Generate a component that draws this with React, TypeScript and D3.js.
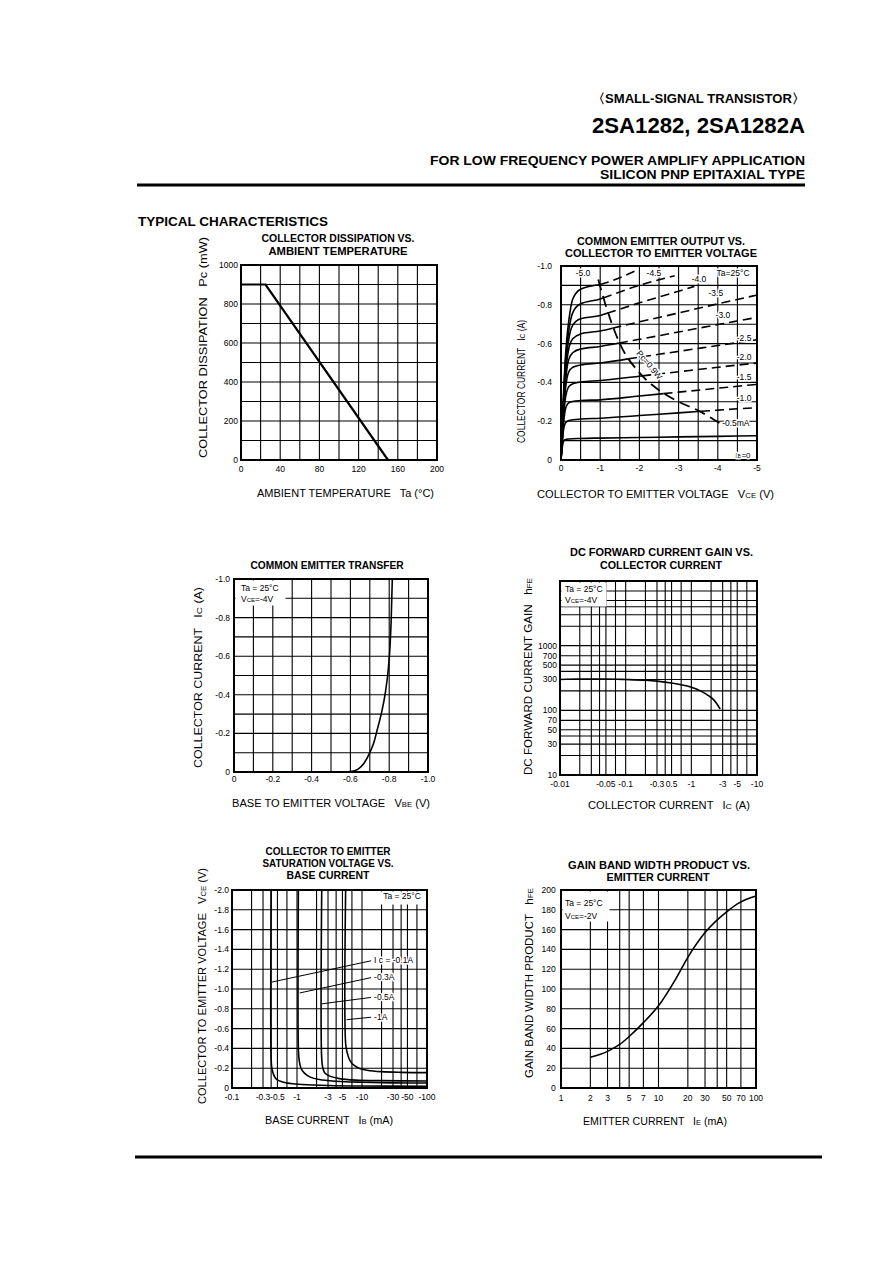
import React from 'react';
import * as d3 from 'd3';

const FONT = '"Liberation Sans", Arial, Helvetica, sans-serif';

// ---------------- Chart 1: collector dissipation vs ambient temperature
const pcTaTemp = [0, 25, 150];
const pcTaPower = [900, 900, 0];
const pcTaXTicks = [0, 40, 80, 120, 160, 200];
const pcTaYTicks = [0, 200, 400, 600, 800, 1000];

// ---------------- Chart 2: common emitter output (VCE [V, negative], IC [A, negative])
const outIb05 = [[0, 0], [0.03, 0.06], [0.06, 0.095], [0.1, 0.104], [0.2, 0.108], [0.5, 0.111], [1, 0.113], [2, 0.116], [3, 0.119], [4, 0.122], [5, 0.125]];
const outIb10 = [[0, 0], [0.03, 0.08], [0.06, 0.15], [0.1, 0.185], [0.15, 0.198], [0.2, 0.204], [0.5, 0.211], [1, 0.215], [2, 0.229], [3, 0.243], [4, 0.257], [5, 0.27]];
const outIb15 = [[0, 0], [0.03, 0.09], [0.06, 0.18], [0.1, 0.25], [0.15, 0.283], [0.2, 0.295], [0.3, 0.302], [0.5, 0.306], [1, 0.31], [2, 0.33], [3, 0.35], [4, 0.37], [5, 0.39]];
const outIb20 = [[0, 0], [0.03, 0.1], [0.06, 0.2], [0.1, 0.3], [0.15, 0.355], [0.2, 0.378], [0.3, 0.393], [0.5, 0.402], [1, 0.41], [2, 0.432], [3, 0.455], [4, 0.478], [5, 0.5]];
const outIb25 = [[0, 0], [0.03, 0.11], [0.06, 0.22], [0.1, 0.34], [0.15, 0.42], [0.2, 0.455], [0.3, 0.478], [0.5, 0.49], [1, 0.5], [2, 0.53], [3, 0.56], [4, 0.59], [5, 0.62]];
const outIb30 = [[0, 0], [0.03, 0.12], [0.06, 0.24], [0.1, 0.37], [0.15, 0.47], [0.2, 0.52], [0.3, 0.553], [0.5, 0.572], [1, 0.585], [2, 0.622], [3, 0.66], [4, 0.698], [5, 0.735]];
const outIb35 = [[0, 0], [0.03, 0.13], [0.06, 0.26], [0.1, 0.4], [0.15, 0.51], [0.2, 0.575], [0.3, 0.625], [0.5, 0.65], [1, 0.665], [2, 0.712], [3, 0.758], [4, 0.805], [5, 0.85]];
const outIb40 = [[0, 0], [0.03, 0.14], [0.06, 0.28], [0.1, 0.43], [0.15, 0.55], [0.2, 0.625], [0.3, 0.695], [0.5, 0.728], [1, 0.745], [2, 0.81], [3, 0.87], [3.4, 0.895]];
const outIb45 = [[0, 0], [0.03, 0.15], [0.06, 0.3], [0.1, 0.46], [0.15, 0.59], [0.2, 0.67], [0.3, 0.76], [0.5, 0.805], [1, 0.83], [2, 0.9], [2.9, 0.95]];
const outIb50 = [[0, 0], [0.03, 0.16], [0.06, 0.32], [0.1, 0.49], [0.15, 0.63], [0.2, 0.72], [0.3, 0.83], [0.5, 0.88], [1, 0.905], [1.9, 0.975]];
const outPcLimit = [[0.95, 0.93], [1.2, 0.76], [1.5, 0.6], [2, 0.45], [2.5, 0.36], [3, 0.3], [3.5, 0.255], [4.05, 0.19]];
const outPcWatts = 0.9;
const outLabelText = ['-5.0', '-4.5', '-4.0', '-3.5', '-3.0', '-2.5', '-2.0', '-1.5', '-1.0', '-0.5mA'];
const outLabelV = [0.56, 2.37, 3.52, 3.95, 4.13, 4.67, 4.67, 4.67, 4.67, 4.46];
const outLabelI = [0.964, 0.965, 0.933, 0.861, 0.747, 0.629, 0.531, 0.428, 0.32, 0.19];
const outXTicks = [0, 1, 2, 3, 4, 5];
const outXLabels = ['0', '-1', '-2', '-3', '-4', '-5'];
const outYTicks = [0, 0.2, 0.4, 0.6, 0.8, 1.0];
const outYLabels = ['0', '-0.2', '-0.4', '-0.6', '-0.8', '-1.0'];

// ---------------- Chart 3: common emitter transfer (VBE, IC)
const trVbe = [0.56, 0.6, 0.64, 0.67, 0.7, 0.72, 0.74, 0.76, 0.78, 0.795, 0.803, 0.81, 0.816];
const trIc = [0, 0.002, 0.015, 0.045, 0.1, 0.15, 0.225, 0.305, 0.41, 0.53, 0.63, 0.78, 1.0];
const trXTicks = [0, 0.2, 0.4, 0.6, 0.8, 1.0];
const trXLabels = ['0', '-0.2', '-0.4', '-0.6', '-0.8', '-1.0'];
const trYTicks = [0, 0.2, 0.4, 0.6, 0.8, 1.0];
const trYLabels = ['0', '-0.2', '-0.4', '-0.6', '-0.8', '-1.0'];

// ---------------- Chart 4: DC current gain vs collector current
const hfeIc = [0.01, 0.02, 0.05, 0.1, 0.2, 0.3, 0.5, 0.7, 1, 1.4, 1.8, 2.2, 2.75];
const hfeVal = [300, 305, 305, 300, 292, 283, 265, 248, 228, 198, 170, 145, 105];
const hfeXTicks = [0.01, 0.05, 0.1, 0.3, 0.5, 1, 3, 5, 10];
const hfeXLabels = ['-0.01', '-0.05', '-0.1', '-0.3', '0.5', '-1', '-3', '-5', '-10'];
const hfeYTicks = [10, 30, 50, 70, 100, 300, 500, 700, 1000];

// ---------------- Chart 5: VCE(sat) vs base current (IB mA, VCE V)
const satIc01 = [[0.4, 2.0], [0.4, 0.3], [0.41, 0.2], [0.44, 0.13], [0.48, 0.09], [0.6, 0.06], [0.8, 0.045], [1.2, 0.035], [3, 0.025], [10, 0.02], [100, 0.018]];
const satIc03 = [[1.05, 2.0], [1.05, 0.4], [1.08, 0.28], [1.15, 0.2], [1.3, 0.15], [1.6, 0.11], [2.2, 0.085], [4, 0.068], [10, 0.058], [30, 0.052], [100, 0.05]];
const satIc05 = [[2.4, 2.0], [2.4, 0.3], [2.5, 0.2], [2.7, 0.15], [3.2, 0.12], [4.5, 0.095], [8, 0.08], [20, 0.074], [100, 0.07]];
const satIc10 = [[5.6, 2.0], [5.6, 0.45], [5.9, 0.36], [6.5, 0.28], [7.5, 0.23], [9, 0.2], [12, 0.18], [20, 0.165], [40, 0.158], [100, 0.155]];
const satLabelText = ['I c = -0.1A', '-0.3A', '-0.5A', '-1A'];
const satLabelV = [1.29, 1.12, 0.92, 0.72];
const satLeaderIb = [0.41, 1.1, 2.4, 5.8];
const satLeaderV = [1.07, 0.96, 0.85, 0.69];
const satXTicks = [0.1, 0.3, 0.5, 1, 3, 5, 10, 30, 50, 100];
const satXLabels = ['-0.1', '-0.3', '-0.5', '-1', '-3', '-5', '-10', '-30', '-50', '-100'];
const satYTicks = [0, 0.2, 0.4, 0.6, 0.8, 1.0, 1.2, 1.4, 1.6, 1.8, 2.0];
const satYLabels = ['0', '-0.2', '-0.4', '-0.6', '-0.8', '-1.0', '-1.2', '-1.4', '-1.6', '-1.8', '-2.0'];

// ---------------- Chart 6: gain bandwidth product vs emitter current
const ftIe = [2, 3, 4, 5, 7, 10, 15, 20, 30, 50, 70, 100];
const ftVal = [31, 37, 44, 52, 66, 83, 110, 132, 157, 178, 188, 194];
const ftXTicks = [1, 2, 3, 5, 7, 10, 20, 30, 50, 70, 100];
const ftYTicks = [0, 20, 40, 60, 80, 100, 120, 140, 160, 180, 200];

// ---------------- layout
type Box = { l: number; r: number; t: number; b: number };
const B1: Box = { l: 241, r: 437, t: 265, b: 460 };
const B2: Box = { l: 561, r: 757, t: 266, b: 460 };
const B3: Box = { l: 234, r: 428, t: 579, b: 772 };
const B4: Box = { l: 560, r: 757, t: 581, b: 775 };
const B5: Box = { l: 232, r: 427, t: 890, b: 1088 };
const B6: Box = { l: 561, r: 756, t: 890, b: 1088 };

const GRID_W = 1.1;
const CURVE_W = 1.6;
const TICK_SIZE = 8.5;

function logGrid(lo: number, hi: number, mults: number[]) {
  const out: number[] = [];
  for (let e = Math.floor(Math.log10(lo)); e <= Math.ceil(Math.log10(hi)); e++) {
    for (const m of mults) {
      const v = m * Math.pow(10, e);
      if (v > lo * 1.0001 && v < hi * 0.9999) out.push(v);
    }
  }
  return out;
}

function T(p: any) {
  const { x, y, size = 8, anchor = 'middle', weight = 400, len, rot, halo, children } = p;
  const extra: any = {};
  if (len) { extra.textLength = len; extra.lengthAdjust = 'spacingAndGlyphs'; }
  if (halo) { extra.stroke = '#fff'; extra.strokeWidth = 3; extra.paintOrder = 'stroke'; extra.strokeLinejoin = 'round'; }
  if (rot) {
    return (
      <text transform={`translate(${x},${y}) rotate(${rot})`} fontSize={size} textAnchor={anchor}
        fontWeight={weight} fill="#000" xmlSpace="preserve" style={{ whiteSpace: 'pre' }} {...extra}>{children}</text>
    );
  }
  return (
    <text x={x} y={y} fontSize={size} textAnchor={anchor} fontWeight={weight} fill="#000"
      xmlSpace="preserve" style={{ whiteSpace: 'pre' }} {...extra}>{children}</text>
  );
}

function Sub({ children, size }: any) {
  return <tspan fontSize={size}>{children}</tspan>;
}

function Frame({ box, xs, ys, sx, sy }: any) {
  return (
    <g>
      <g stroke="#000" strokeWidth={GRID_W} fill="none">
        {xs.map((v: number, i: number) => (
          <line key={'vx' + i} x1={sx(v)} x2={sx(v)} y1={box.t} y2={box.b} />
        ))}
        {ys.map((v: number, i: number) => (
          <line key={'hy' + i} x1={box.l} x2={box.r} y1={sy(v)} y2={sy(v)} />
        ))}
      </g>
      <rect x={box.l} y={box.t} width={box.r - box.l} height={box.b - box.t} fill="none" stroke="#000" strokeWidth={2} />
    </g>
  );
}

function YTicks({ vals, labels, sy, x }: any) {
  return (
    <g>
      {vals.map((v: number, i: number) => (
        <T key={i} x={x} y={sy(v) + 3} anchor="end" size={TICK_SIZE}>{labels ? labels[i] : String(v)}</T>
      ))}
    </g>
  );
}

function XTicks({ vals, labels, sx, y }: any) {
  return (
    <g>
      {vals.map((v: number, i: number) => (
        <T key={i} x={sx(v)} y={y} size={TICK_SIZE}>{labels ? labels[i] : String(v)}</T>
      ))}
    </g>
  );
}

function Header() {
  return (
    <g>
      <T x={805} y={103} anchor="end" size={13} weight={700} len={213}>〈SMALL-SIGNAL TRANSISTOR〉</T>
      <T x={805} y={133} anchor="end" size={22} weight={700} len={213}>2SA1282, 2SA1282A</T>
      <T x={805} y={164.5} anchor="end" size={12.5} weight={700} len={375}>FOR LOW FREQUENCY POWER AMPLIFY APPLICATION</T>
      <T x={805} y={178.5} anchor="end" size={12.5} weight={700} len={205}>SILICON PNP EPITAXIAL TYPE</T>
      <rect x={137} y={183.5} width={668} height={3} fill="#000" />
      <T x={138} y={226} anchor="start" size={13} weight={700} len={190}>TYPICAL CHARACTERISTICS</T>
      <rect x={135} y={1155.5} width={687} height={3} fill="#000" />
    </g>
  );
}

function Chart1() {
  const sx = d3.scaleLinear().domain([0, 200]).range([B1.l, B1.r]);
  const sy = d3.scaleLinear().domain([0, 1000]).range([B1.b, B1.t]);
  const line = d3.line<number>().x((_, i) => sx(pcTaTemp[i])).y((d) => sy(d));
  return (
    <g>
      <T x={338} y={242} size={10} weight={700} len={153}>COLLECTOR DISSIPATION VS.</T>
      <T x={338} y={254.5} size={10} weight={700} len={139}>AMBIENT TEMPERATURE</T>
      <Frame box={B1} xs={d3.range(20, 200, 20)} ys={d3.range(100, 1000, 100)} sx={sx} sy={sy} />
      <path d={line(pcTaPower) || ''} fill="none" stroke="#000" strokeWidth={2.2} />
      <YTicks vals={pcTaYTicks} sy={sy} x={238} />
      <XTicks vals={pcTaXTicks} sx={sx} y={472} />
      <T x={206.5} y={458} rot={-90} anchor="start" size={10} len={221}>COLLECTOR DISSIPATION   Pc (mW)</T>
      <T x={257} y={496.5} anchor="start" size={10} len={177}>AMBIENT TEMPERATURE   Ta (°C)</T>
    </g>
  );
}

function splitAtPc(pts: number[][]) {
  const solid: number[][] = [];
  const dashed: number[][] = [];
  let crossed = false;
  for (let i = 0; i < pts.length; i++) {
    const [v, c] = pts[i];
    if (!crossed && v * c > outPcWatts) {
      const [pv, pc] = pts[i - 1];
      const f0 = pv * pc - outPcWatts;
      const f1 = v * c - outPcWatts;
      const t = f0 / (f0 - f1);
      const cross = [pv + (v - pv) * t, pc + (c - pc) * t];
      solid.push(cross);
      dashed.push(cross);
      crossed = true;
    }
    if (crossed) dashed.push(pts[i]); else solid.push(pts[i]);
  }
  return { solid, dashed };
}

function Chart2() {
  const sx = d3.scaleLinear().domain([0, 5]).range([B2.l, B2.r]);
  const sy = d3.scaleLinear().domain([0, 1]).range([B2.b, B2.t]);
  const line = d3.line<number[]>().x((d) => sx(d[0])).y((d) => sy(d[1])).curve(d3.curveMonotoneX);
  const curves = [outIb05, outIb10, outIb15, outIb20, outIb25, outIb30, outIb35, outIb40, outIb45, outIb50];
  const pcLine = d3.line<number[]>().x((d) => sx(d[0])).y((d) => sy(d[1])).curve(d3.curveMonotoneX);
  return (
    <g>
      <T x={661} y={244.5} size={10} weight={700} len={168}>COMMON EMITTER OUTPUT VS.</T>
      <T x={661} y={257} size={10} weight={700} len={192}>COLLECTOR TO EMITTER VOLTAGE</T>
      <Frame box={B2} xs={d3.range(0.5, 5, 0.5)} ys={d3.range(0.1, 1, 0.1)} sx={sx} sy={sy} />
      {curves.map((c, i) => {
        const { solid, dashed } = splitAtPc(c);
        return (
          <g key={i} fill="none" stroke="#000" strokeWidth={CURVE_W}>
            <path d={line(solid) || ''} />
            {dashed.length > 1 && <path d={line(dashed) || ''} strokeDasharray="9,5" />}
          </g>
        );
      })}
      <path d={pcLine(outPcLimit) || ''} fill="none" stroke="#000" strokeWidth={1.8} strokeDasharray="11,6" />
      <T x={sx(2.2)} y={sy(0.48)} rot={50} size={8.5} halo>Pc=0.9W</T>
      {outLabelText.map((t, i) => (
        <T key={i} x={sx(outLabelV[i])} y={sy(outLabelI[i]) + 3} size={8.5} halo>{t}</T>
      ))}
      <T x={sx(4.39)} y={sy(0.964) + 3} size={8.5} halo>Ta=25°C</T>
      <T x={sx(4.64)} y={458} size={8} halo>I<Sub size={6}>B</Sub>=0</T>
      <YTicks vals={outYTicks} labels={outYLabels} sy={sy} x={552} />
      <XTicks vals={outXTicks} labels={outXLabels} sx={sx} y={471} />
      <T x={525} y={443} rot={-90} anchor="start" size={10} len={123}>COLLECTOR CURRENT   I<Sub size={8}>C</Sub> (A)</T>
      <T x={537} y={498} anchor="start" size={10} len={237}>COLLECTOR TO EMITTER VOLTAGE   V<Sub size={7}>CE</Sub> (V)</T>
    </g>
  );
}

function Chart3() {
  const sx = d3.scaleLinear().domain([0, 1]).range([B3.l, B3.r]);
  const sy = d3.scaleLinear().domain([0, 1]).range([B3.b, B3.t]);
  const line = d3.line<number>().x((d) => sx(d)).y((_, i) => sy(trIc[i])).curve(d3.curveMonotoneX);
  return (
    <g>
      <T x={327} y={568.5} size={10} weight={700} len={153}>COMMON EMITTER TRANSFER</T>
      <Frame box={B3} xs={d3.range(0.1, 1, 0.1)} ys={d3.range(0.1, 1, 0.1)} sx={sx} sy={sy} />
      <rect x={B3.l + 1.5} y={B3.t + 1.5} width={50} height={25} fill="#fff" />
      <path d={line(trVbe) || ''} fill="none" stroke="#000" strokeWidth={CURVE_W} />
      <T x={241} y={591} anchor="start" size={8.5}>Ta = 25°C</T>
      <T x={241} y={602} anchor="start" size={8.5}>V<Sub size={6}>CE</Sub>=-4V</T>
      <YTicks vals={trYTicks} labels={trYLabels} sy={sy} x={230} />
      <XTicks vals={trXTicks} labels={trXLabels} sx={sx} y={782} />
      <T x={201.8} y={768} rot={-90} anchor="start" size={10} len={181}>COLLECTOR CURRENT   I<Sub size={8}>C</Sub> (A)</T>
      <T x={232} y={806.5} anchor="start" size={10} len={198}>BASE TO EMITTER VOLTAGE   V<Sub size={7}>BE</Sub> (V)</T>
    </g>
  );
}

function Chart4() {
  const sx = d3.scaleLog().domain([0.01, 10]).range([B4.l, B4.r]);
  const sy = d3.scaleLog().domain([10, 10000]).range([B4.b, B4.t]);
  const line = d3.line<number>().x((_, i) => sx(hfeIc[i])).y((d) => sy(d)).curve(d3.curveMonotoneX);
  return (
    <g>
      <T x={661.5} y={556} size={10} weight={700} len={183}>DC FORWARD CURRENT GAIN VS.</T>
      <T x={661} y={569.3} size={10} weight={700} len={122}>COLLECTOR CURRENT</T>
      <Frame box={B4} xs={logGrid(0.01, 10, [1, 2, 3, 4, 5, 7])} ys={logGrid(10, 10000, [1, 2, 3, 4, 5, 7])} sx={sx} sy={sy} />
      <rect x={B4.l + 1.5} y={B4.t + 1.5} width={45} height={24} fill="#fff" />
      <path d={line(hfeVal) || ''} fill="none" stroke="#000" strokeWidth={CURVE_W} />
      <T x={565} y={592} anchor="start" size={8.5}>Ta = 25°C</T>
      <T x={565} y={603} anchor="start" size={8.5}>V<Sub size={6}>CE</Sub>=-4V</T>
      <YTicks vals={hfeYTicks} sy={sy} x={557} />
      <XTicks vals={hfeXTicks} labels={hfeXLabels} sx={sx} y={787} />
      <T x={531.8} y={775} rot={-90} anchor="start" size={10} len={197}>DC FORWARD CURRENT GAIN   h<Sub size={7}>FE</Sub></T>
      <T x={588} y={808.5} anchor="start" size={10} len={162}>COLLECTOR CURRENT   I<Sub size={8}>C</Sub> (A)</T>
    </g>
  );
}

function Chart5() {
  const sx = d3.scaleLog().domain([0.1, 100]).range([B5.l, B5.r]);
  const sy = d3.scaleLinear().domain([0, 2]).range([B5.b, B5.t]);
  const line = d3.line<number[]>().x((d) => sx(d[0])).y((d) => sy(d[1])).curve(d3.curveCatmullRom.alpha(0.5));
  const curves = [satIc01, satIc03, satIc05, satIc10];
  const lx = sx(13.8);
  return (
    <g>
      <T x={328} y={855.3} size={10} weight={700} len={125}>COLLECTOR TO EMITTER</T>
      <T x={328} y={867} size={10} weight={700} len={131}>SATURATION VOLTAGE VS.</T>
      <T x={328} y={878.6} size={10} weight={700} len={83}>BASE CURRENT</T>
      <Frame box={B5} xs={logGrid(0.1, 100, [1, 2, 3, 4, 5, 7])} ys={d3.range(0.2, 2, 0.2)} sx={sx} sy={sy} />
      <rect x={379} y={B5.t + 1.5} width={46} height={13} fill="#fff" />
      {curves.map((c, i) => (
        <path key={i} d={line(c) || ''} fill="none" stroke="#000" strokeWidth={CURVE_W} />
      ))}
      {satLabelText.map((t, i) => (
        <g key={i}>
          <line x1={lx} y1={sy(satLabelV[i]) + 0.5} x2={sx(satLeaderIb[i])} y2={sy(satLeaderV[i])} stroke="#000" strokeWidth={1} />
          <T x={lx + 3} y={sy(satLabelV[i]) + 3} anchor="start" size={8.5} halo>{t}</T>
        </g>
      ))}
      <T x={402} y={898.5} size={8.5}>Ta = 25°C</T>
      <YTicks vals={satYTicks} labels={satYLabels} sy={sy} x={229} />
      <XTicks vals={satXTicks} labels={satXLabels} sx={sx} y={1100} />
      <T x={206.2} y={1104} rot={-90} anchor="start" size={10} len={236}>COLLECTOR TO EMITTER VOLTAGE   V<Sub size={7}>CE</Sub> (V)</T>
      <T x={265} y={1123.5} anchor="start" size={10} len={128}>BASE CURRENT   I<Sub size={7}>B</Sub> (mA)</T>
    </g>
  );
}

function Chart6() {
  const sx = d3.scaleLog().domain([1, 100]).range([B6.l, B6.r]);
  const sy = d3.scaleLinear().domain([0, 200]).range([B6.b, B6.t]);
  const line = d3.line<number>().x((_, i) => sx(ftIe[i])).y((d) => sy(d)).curve(d3.curveMonotoneX);
  return (
    <g>
      <T x={659} y={868.6} size={10} weight={700} len={182}>GAIN BAND WIDTH PRODUCT VS.</T>
      <T x={658} y={881.3} size={10} weight={700} len={103}>EMITTER CURRENT</T>
      <Frame box={B6} xs={logGrid(1, 100, [1, 2, 3, 4, 5, 7])} ys={d3.range(20, 200, 20)} sx={sx} sy={sy} />
      <rect x={B6.l + 1.5} y={B6.t + 1.5} width={47} height={30} fill="#fff" />
      <path d={line(ftVal) || ''} fill="none" stroke="#000" strokeWidth={CURVE_W} />
      <T x={565} y={906} anchor="start" size={8.5}>Ta = 25°C</T>
      <T x={565} y={918.5} anchor="start" size={8.5}>V<Sub size={6}>CE</Sub>=-2V</T>
      <YTicks vals={ftYTicks} sy={sy} x={555.7} />
      <XTicks vals={ftXTicks} sx={sx} y={1100.7} />
      <T x={532.5} y={1078} rot={-90} anchor="start" size={10} len={190}>GAIN BAND WIDTH PRODUCT   h<Sub size={7}>FE</Sub></T>
      <T x={583} y={1125} anchor="start" size={10} len={144}>EMITTER CURRENT   I<Sub size={7}>E</Sub> (mA)</T>
    </g>
  );
}

export default function App() {
  return (
    <svg width={892} height={1263} viewBox="0 0 892 1263" fontFamily={FONT}
      style={{ position: 'absolute', left: 0, top: 0, display: 'block' }}>
      <rect width={892} height={1263} fill="#fff" />
      <Header />
      <Chart1 />
      <Chart2 />
      <Chart3 />
      <Chart4 />
      <Chart5 />
      <Chart6 />
    </svg>
  );
}
